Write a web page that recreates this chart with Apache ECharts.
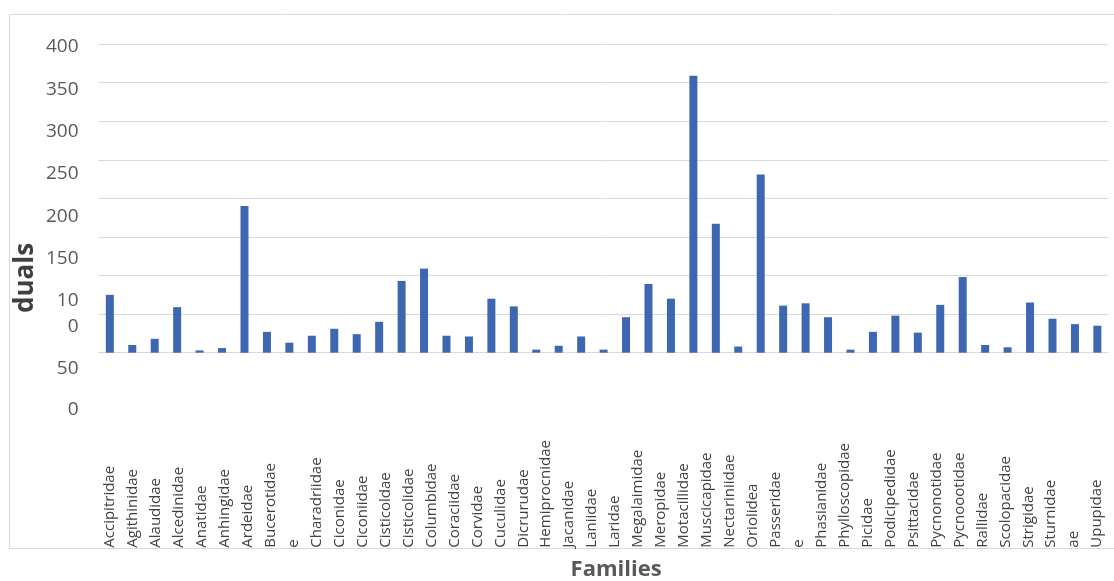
<!DOCTYPE html>
<html>
<head>
<meta charset="utf-8">
<script src="https://cdn.jsdelivr.net/npm/echarts@6/dist/echarts.min.js"></script>
<style>
  html, body { margin: 0; padding: 0; background: #ffffff; }
  #chart { width: 1114px; height: 581px; }
</style>
</head>
<body>
<div id="chart"></div>
<script>
// Family names shown along the category axis
const families = [
  'Accipitridae', 'Agithinidae', 'Alaudidae', 'Alcedinidae', 'Anatidae', 'Anhingidae',
  'Ardeidae', 'Bucerotidae', 'e', 'Charadriidae', 'Ciconidae', 'Ciconiidae',
  'Cisticoldae', 'Cisticolidae', 'Columbidae', 'Coraciidae', 'Corvidae', 'Cuculidae',
  'Dicrurudae', 'Hemiprocnidae', 'Jacanidae', 'Laniidae', 'Laridae', 'Megalaimidae',
  'Meropidae', 'Motacillidae', 'Muscicapidae', 'Nectariniidae', 'Oriolidea', 'Passeridae',
  'e', 'Phasianidae', 'Phylloscopidae', 'Picidae', 'Podicipedidae', 'Psittacidae',
  'Pycnonotidae', 'Pycnoootidae', 'Rallidae', 'Scolopacidae', 'Strigidae', 'Sturnidae',
  'ae', 'Upupidae'
];

// Number of individuals per bar
const individuals = [
  75, 10, 18, 59, 3, 6, 190, 27, 13, 22, 31, 24,
  40, 93, 109, 22, 21, 70, 60, 4, 9, 21, 4, 46,
  89, 70, 359, 167, 8, 231, 61, 64, 46, 4, 27, 48,
  26, 62, 98, 10, 7, 65, 44, 37, 35
];

// Value-axis tick labels, as printed in the label column
const tickLabels = ['400', '350', '300', '250', '200', '150', '10', '0', '50', '0'];

// Layout: row offset of each tick label line in the label column
const labelRows = [0, 1, 2.01, 3, 4.02, 5.01, 6, 6.62, 7.59, 8.58];
const labelRowMax = 8.58;

const FONT = 'Open Sans';
const GRID_LEFT = 98.6;
const GRID_RIGHT = 5.4;

const chart = echarts.init(document.getElementById('chart'), null, { renderer: 'canvas' });

const rowText = {};
labelRows.forEach((r, i) => { rowText[r] = tickLabels[i]; });

chart.setOption({
  animation: false,
  backgroundColor: '#ffffff',
  graphic: [{
    type: 'rect',
    silent: true,
    z: -10,
    shape: { x: 9.5, y: 14.5, width: 1200, height: 534 },
    style: { fill: 'none', stroke: '#d9d9d9', lineWidth: 1 }
  }],
  grid: [
    { left: GRID_LEFT, right: GRID_RIGHT, top: 44, bottom: 228.3, containLabel: false, outerBoundsMode: 'none' },
    { left: GRID_LEFT, width: 10, top: 47, height: 363, containLabel: false, outerBoundsMode: 'none' }
  ],
  xAxis: [
    {
      // family names
      type: 'category',
      gridIndex: 0,
      position: 'bottom',
      data: families,
      axisLine: { show: false },
      axisTick: { show: false },
      splitLine: { show: false },
      axisLabel: {
        interval: 0,
        rotate: 90,
        align: 'left',
        verticalAlign: 'middle',
        margin: 195,
        fontFamily: FONT,
        fontSize: 15,
        color: '#404040'
      },
      name: 'Families',
      nameLocation: 'middle',
      nameGap: 206,
      nameTextStyle: {
        fontFamily: FONT,
        fontSize: 22,
        fontWeight: 'bold',
        color: '#595959',
        padding: [0, 0, 0, 25]
      }
    },
    {
      // bar slots
      type: 'category',
      gridIndex: 0,
      position: 'top',
      data: individuals.map((_, i) => i + 1),
      show: false
    },
    {
      type: 'value',
      gridIndex: 1,
      show: false
    }
  ],
  yAxis: [
    {
      type: 'value',
      gridIndex: 0,
      min: 0,
      max: 400,
      interval: 50,
      axisLine: { show: false },
      axisTick: { show: false },
      axisLabel: { show: false },
      splitLine: { lineStyle: { color: '#d9d9d9', width: 1 } }
    },
    {
      type: 'value',
      gridIndex: 1,
      inverse: true,
      min: 0,
      max: labelRowMax,
      axisLine: { show: false },
      axisTick: { show: false },
      splitLine: { show: false },
      axisLabel: {
        customValues: labelRows,
        formatter: (v) => rowText[v] !== undefined ? rowText[v] : '',
        margin: 20,
        fontFamily: FONT,
        fontSize: 19,
        color: '#595959'
      },
      name: 'duals',
      nameLocation: 'middle',
      nameGap: 60,
      nameTextStyle: {
        fontFamily: FONT,
        fontSize: 26,
        fontWeight: 'bold',
        color: '#404040',
        padding: [0, 99, 0, 0]
      }
    }
  ],
  series: [{
    type: 'bar',
    xAxisIndex: 1,
    yAxisIndex: 0,
    data: individuals,
    barWidth: 8,
    itemStyle: { color: '#3d67b1' }
  }]
});
</script>
</body>
</html>
